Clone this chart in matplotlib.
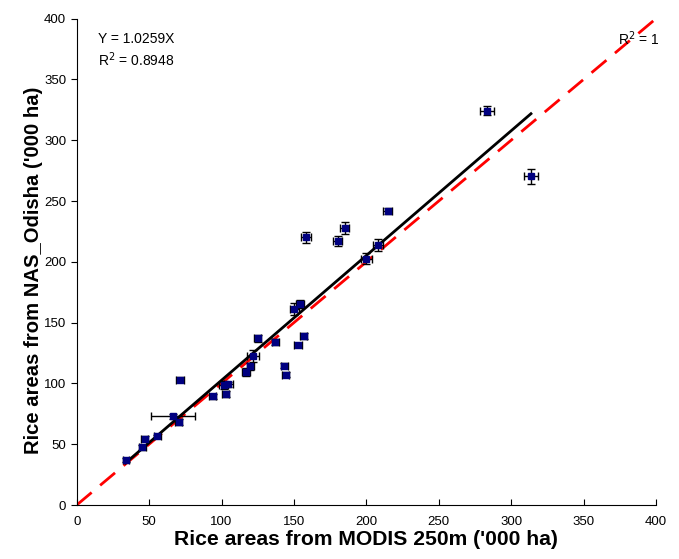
import matplotlib
matplotlib.use("Agg")
import matplotlib.pyplot as plt
import numpy as np

plt.rcParams['font.family'] = ['Liberation Sans', 'DejaVu Sans']

# MODIS (x) vs NAS (y) rice areas ('000 ha)
modis = [34.1, 45.4, 47.0, 55.7, 66.4, 70.3, 71.4, 94.0, 101.4, 103.0, 104.8,
         116.9, 119.8, 121.7, 124.9, 137.1, 143.4, 144.3, 150.3, 152.8, 154.2,
         156.7, 158.6, 180.2, 185.1, 200.1, 208.2, 214.8, 283.5, 313.7]
nas = [37.0, 47.4, 54.5, 56.4, 73.1, 68.2, 103.2, 89.5, 98.6, 91.2, 99.4,
       109.5, 114.2, 122.4, 137.2, 134.1, 114.7, 107.0, 161.5, 131.4, 165.3,
       139.1, 220.1, 217.4, 228.1, 202.6, 214.1, 241.5, 324.4, 270.2]
modis_err = [2.0, 2.5, 2.5, 2.5, 15.3, 2.5, 2.5, 2.5, 3.0, 2.5, 3.0,
             3.0, 2.5, 4.0, 2.5, 2.5, 2.5, 2.5, 3.0, 2.5, 2.5,
             2.5, 3.5, 3.0, 3.0, 3.5, 3.5, 3.0, 5.0, 5.0]
nas_err = [1.5, 2.0, 2.0, 1.5, 2.0, 2.5, 2.0, 2.0, 3.0, 2.5, 2.0,
           3.5, 3.0, 5.0, 3.0, 2.5, 2.0, 2.0, 5.0, 1.5, 3.0,
           2.5, 4.5, 4.0, 5.0, 4.5, 5.0, 2.5, 3.5, 6.0]
slope = 1.0259
r2 = 0.8948

fig = plt.figure(figsize=(6.79, 5.59), dpi=100)
ax = fig.add_axes([0.113, 0.0966, 0.853, 0.870])

# 1:1 line
ax.plot([0, 400], [0, 400], color='#ff0000', lw=2, dashes=(7, 4), zorder=2)
# regression line
xl = np.array([min(modis) - 0.5, max(modis)])
ax.plot(xl, slope * xl, color='black', lw=2, zorder=3)

ax.errorbar(modis, nas, xerr=modis_err, yerr=nas_err, fmt='s', color='#000080',
            markersize=4.3, ecolor='black', elinewidth=1, capsize=3, capthick=1, zorder=4)

ax.set_xlim(0, 400)
ax.set_ylim(0, 400)
ax.set_xticks(np.arange(0, 401, 50))
ax.set_yticks(np.arange(0, 401, 50))
ax.spines['top'].set_visible(False)
ax.spines['right'].set_visible(False)
ax.tick_params(axis='x', direction='in', length=4, labelsize=9.5, pad=8)
ax.tick_params(axis='y', direction='out', length=4, labelsize=9.5)

ax.text(41, 383, f'Y = {slope}X', ha='center', va='center', fontsize=10)
ax.text(41, 366, f'R$^2$ = {r2}', ha='center', va='center', fontsize=10)
ax.text(373.5, 383.5, 'R$^2$ = 1', ha='left', va='center', fontsize=10)

ax.set_xlabel("Rice areas from MODIS 250m ('000 ha)", fontsize=15.2, fontweight='bold', labelpad=1)
ax.set_ylabel("Rice areas from NAS_Odisha ('000 ha)", fontsize=14.6, fontweight='bold')
ax.yaxis.set_label_coords(-0.058, 0.4825)

fig.savefig('out.png', dpi=100)
